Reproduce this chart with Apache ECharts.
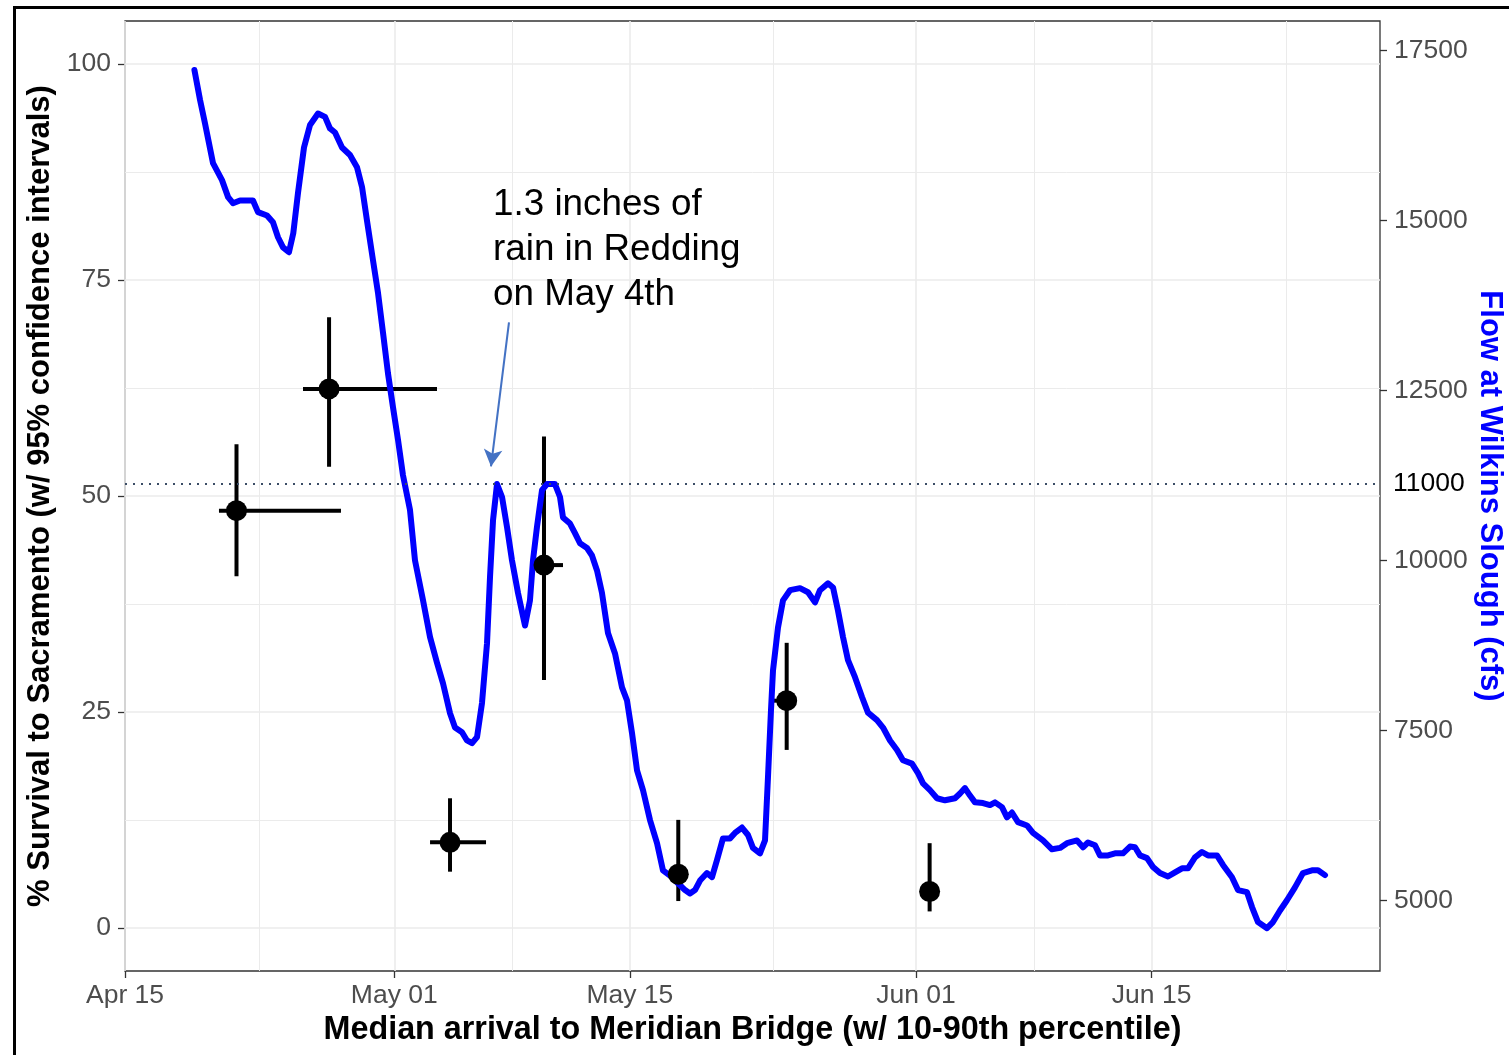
<!DOCTYPE html>
<html><head><meta charset="utf-8">
<script src="https://cdn.jsdelivr.net/npm/echarts@6/dist/echarts.min.js"></script>
<style>html,body{margin:0;padding:0;background:#fff}#c{width:1509px;height:1055px}</style>
</head><body><div id="c"></div>
<script>
const year = 2019;
// Flow at Wilkins Slough (cfs)
const flowTime = ['04-19 03:00','04-19 11:00','04-19 18:00','04-20 05:30','04-20 18:20','04-21 03:00','04-21 10:00','04-21 20:00','04-22 03:00','04-22 14:30','04-22 21:40','04-23 10:30','04-23 19:00','04-24 02:10','04-24 09:20','04-24 17:50','04-25 00:00','04-25 06:40','04-25 15:15','04-25 23:50','04-26 11:15','04-26 21:15','04-27 04:20','04-27 11:30','04-27 21:30','04-28 08:50','04-28 18:50','04-29 02:00','04-29 09:00','04-29 17:40','04-30 00:50','04-30 08:00','04-30 15:00','04-30 22:10','05-01 05:20','05-01 12:25','05-01 22:25','05-02 05:30','05-02 17:00','05-03 03:00','05-03 13:00','05-03 21:30','05-04 07:30','05-04 14:35','05-05 00:35','05-05 07:40','05-05 14:50','05-05 22:00','05-06 05:05','05-06 12:15','05-06 16:30','05-06 20:50','05-07 02:30','05-07 09:40','05-07 16:45','05-07 23:50','05-08 08:25','05-08 18:25','05-09 01:30','05-09 05:50','05-09 11:30','05-09 18:40','05-10 01:45','05-10 13:10','05-10 20:20','05-11 00:35','05-11 10:35','05-11 17:40','05-12 00:50','05-12 10:50','05-12 17:55','05-13 01:05','05-13 08:10','05-13 16:45','05-14 02:45','05-14 12:45','05-14 19:50','05-15 03:00','05-15 10:10','05-15 18:40','05-16 04:40','05-16 14:40','05-16 23:10','05-17 12:00','05-17 20:35','05-18 06:35','05-18 13:40','05-18 20:50','05-19 04:00','05-19 13:55','05-19 21:05','05-20 04:10','05-20 12:45','05-20 22:45','05-21 05:50','05-21 15:50','05-22 00:25','05-22 07:30','05-22 17:30','05-23 00:40','05-23 04:55','05-23 09:10','05-23 12:05','05-23 19:10','05-24 02:20','05-24 12:20','05-25 02:35','05-25 14:00','05-26 00:00','05-26 07:05','05-26 18:30','05-27 01:40','05-27 08:45','05-27 15:55','05-27 23:00','05-28 09:00','05-28 19:00','05-29 03:30','05-29 16:20','05-30 00:55','05-30 10:55','05-30 20:55','05-31 05:25','05-31 18:15','06-01 02:50','06-01 10:00','06-01 19:55','06-02 05:55','06-02 17:20','06-03 07:35','06-03 14:45','06-03 21:50','06-04 05:00','06-04 12:10','06-04 23:30','06-05 09:30','06-05 16:40','06-06 02:35','06-06 09:45','06-06 16:50','06-07 01:25','06-07 14:15','06-07 22:50','06-08 13:05','06-09 01:55','06-09 13:20','06-09 23:20','06-10 13:35','06-10 22:10','06-11 05:15','06-11 15:15','06-11 22:20','06-12 09:50','06-12 19:45','06-13 07:10','06-13 17:10','06-14 00:20','06-14 07:25','06-14 17:25','06-15 02:00','06-15 11:55','06-15 23:20','06-16 09:20','06-16 19:20','06-17 03:50','06-17 13:50','06-17 23:50','06-18 08:25','06-18 21:10','06-19 05:45','06-19 18:35','06-20 03:10','06-20 16:00','06-20 23:10','06-21 07:40','06-21 20:30','06-22 05:05','06-22 15:05','06-23 01:00','06-23 12:25','06-23 23:50','06-24 12:40','06-24 21:15','06-25 07:15'];
const flowCfs = [17210,16770,16430,15840,15590,15340,15250,15290,15290,15290,15120,15070,14970,14750,14600,14530,14810,15400,16070,16400,16570,16520,16350,16290,16070,15960,15780,15490,15000,14410,13930,13340,12750,12250,11770,11250,10740,10000,9410,8870,8490,8190,7750,7540,7470,7350,7310,7400,7900,8780,9750,10590,11120,10930,10490,10000,9520,9040,9410,10000,10490,11030,11120,11120,10930,10630,10540,10400,10250,10180,10070,9850,9520,8930,8630,8130,7940,7460,6910,6620,6180,5840,5440,5340,5250,5150,5100,5150,5290,5400,5340,5590,5910,5910,5990,6070,5960,5770,5690,5880,6810,7790,8380,9010,9410,9560,9590,9530,9380,9560,9660,9600,9260,8870,8530,8280,7990,7760,7650,7540,7350,7210,7060,7010,6870,6720,6620,6500,6470,6500,6570,6650,6540,6440,6430,6400,6440,6370,6220,6290,6150,6100,5990,5880,5750,5770,5840,5880,5780,5850,5810,5660,5660,5690,5690,5790,5780,5660,5620,5490,5400,5350,5410,5470,5470,5630,5710,5660,5660,5520,5340,5150,5120,4900,4680,4590,4680,4850,5000,5190,5400,5440,5440,5370];

// Survival groups: median arrival, survival %, 95% CI, 10th-90th percentile arrival
const fishDate   = ['04-21 15:00','04-27 03:00','05-04 07:30','05-09 21:30','05-17 21:00','05-24 07:35','06-01 19:25'];
const survival   = [48.3, 62.4, 9.9, 42.0, 6.2, 26.3, 4.2];
const survLo     = [40.7, 53.4, 6.5, 28.7, 3.1, 20.6, 1.9];
const survHi     = [56.0, 70.7, 15.0, 56.9, 12.5, 33.0, 9.8];
const arrivalLo  = ['04-20 14:00','04-25 13:50','05-03 03:00','05-09 07:15', null, '05-23 08:50', null];
const arrivalHi  = ['04-27 20:00','05-03 12:55','05-06 10:50','05-11 00:35', null, '05-24 10:00', null];

// Axes
const xStart = '04-15 00:00';
const xEnd = '06-28 13:40';
const xTickDates = ['04-15','05-01','05-15','06-01','06-15'];
const xMinorDates = ['04-23 00:00','05-08 00:00','05-23 12:00','06-08 00:00','06-23 00:00'];
const survTicks = [0, 25, 50, 75, 100];
const survMinor = [12.5, 37.5, 62.5, 87.5];
const survRange = [-5, 105];
const flowTicks = [5000, 7500, 10000, 12500, 15000, 17500];
const flowRange = [3960, 17930];
const refFlow = 11130;
const refLabel = '11000';
const arrowFrom = ['05-07 19:35', 13500];
const arrowTo = ['05-06 17:55', 11380];
const annotation = '1.3 inches of\nrain in Redding\non May 4th';

function ts(s) {
  const parts = s.split(' ');
  const md = parts[0].split('-').map(Number);
  const hm = (parts[1] || '00:00').split(':').map(Number);
  return new Date(year, md[0] - 1, md[1], hm[0], hm[1]).getTime();
}
const MON = ['Jan','Feb','Mar','Apr','May','Jun','Jul','Aug','Sep','Oct','Nov','Dec'];
function fmtDate(v) {
  const d = new Date(v);
  const dd = d.getDate();
  return MON[d.getMonth()] + ' ' + (dd < 10 ? '0' + dd : '' + dd);
}

const FONT = '"Liberation Sans", Arial, sans-serif';
const GRID_C = '#ebebeb';
const xTickVals = xTickDates.map(ts);

const chart = echarts.init(document.getElementById('c'), null, {renderer: 'canvas'});

const gridLines = []
  .concat(xTickDates.map(d => ({xAxis: ts(d), lineStyle: {color: GRID_C, width: 1.6, type: 'solid'}})))
  .concat(xMinorDates.map(d => ({xAxis: ts(d), lineStyle: {color: GRID_C, width: 1, type: 'solid'}})))
  .concat(survTicks.map(v => ({yAxis: v, lineStyle: {color: GRID_C, width: 1.6, type: 'solid'}})))
  .concat(survMinor.map(v => ({yAxis: v, lineStyle: {color: GRID_C, width: 1, type: 'solid'}})));

const errData = fishDate.map((d, i) => [
  ts(d), survival[i], survLo[i], survHi[i],
  arrivalLo[i] ? ts(arrivalLo[i]) : NaN,
  arrivalHi[i] ? ts(arrivalHi[i]) : NaN
]);

const option = {
  animation: false,
  backgroundColor: '#ffffff',
  grid: {left: 125, right: 129, top: 21, bottom: 84, show: true, borderColor: '#333333', borderWidth: 1.3, containLabel: false, outerBoundsMode: 'none'},
  xAxis: {
    type: 'value', min: ts(xStart), max: ts(xEnd), scale: true,
    axisLine: {show: false, onZero: false},
    axisTick: {show: true, customValues: xTickVals, length: 7, lineStyle: {color: '#333333', width: 1.3}},
    axisLabel: {customValues: xTickVals, formatter: fmtDate, color: '#4d4d4d', fontSize: 26.5, fontFamily: FONT, margin: 11},
    splitLine: {show: false}, minorSplitLine: {show: false},
    name: 'Median arrival to Meridian Bridge (w/ 10-90th percentile)',
    nameLocation: 'middle', nameGap: 40,
    nameTextStyle: {color: '#000', fontSize: 32.3, fontWeight: 'bold', fontFamily: FONT}
  },
  yAxis: [{
    type: 'value', min: survRange[0], max: survRange[1], position: 'left',
    axisLine: {show: false, onZero: false},
    axisTick: {show: true, customValues: survTicks, length: 7, lineStyle: {color: '#333333', width: 1.3}},
    axisLabel: {customValues: survTicks, color: '#4d4d4d', fontSize: 26.5, fontFamily: FONT, margin: 14},
    splitLine: {show: false},
    name: '% Survival to Sacramento (w/ 95% confidence intervals)',
    nameLocation: 'middle', nameGap: 66,
    nameTextStyle: {color: '#000', fontSize: 31, fontWeight: 'bold', fontFamily: FONT}
  }, {
    type: 'value', min: flowRange[0], max: flowRange[1], position: 'right',
    axisLine: {show: false, onZero: false},
    axisTick: {show: true, customValues: flowTicks, length: 7, lineStyle: {color: '#333333', width: 1.3}},
    axisLabel: {customValues: flowTicks, formatter: v => String(v), color: '#4d4d4d', fontSize: 26.5, fontFamily: FONT, margin: 14},
    splitLine: {show: false},
    name: 'Flow at Wilkins Slough (cfs)',
    nameLocation: 'middle', nameGap: 94, nameRotate: -90, nameMoveOverlap: false,
    nameTextStyle: {color: '#0000ff', fontSize: 31, fontWeight: 'bold', fontFamily: FONT}
  }],
  series: [
    {
      name: 'grid', type: 'line', xAxisIndex: 0, yAxisIndex: 0, data: [], z: 1, silent: true,
      markLine: {silent: true, z: 1, symbol: 'none', label: {show: false}, animation: false, data: gridLines}
    },
    {
      name: 'ci', type: 'custom', xAxisIndex: 0, yAxisIndex: 0, z: 2, silent: true,
      encode: {x: 0, y: 1},
      data: errData,
      renderItem: function (params, api) {
        const x = api.value(0), lo = api.value(2), hi = api.value(3), y = api.value(1);
        const xl = api.value(4), xh = api.value(5);
        const a = api.coord([x, lo]), b = api.coord([x, hi]);
        const children = [{type: 'line', shape: {x1: a[0], y1: a[1], x2: b[0], y2: b[1]}, style: {stroke: '#000', lineWidth: 4}}];
        if (!isNaN(xl) && !isNaN(xh)) {
          const c = api.coord([xl, y]), d = api.coord([xh, y]);
          children.push({type: 'line', shape: {x1: c[0], y1: c[1], x2: d[0], y2: d[1]}, style: {stroke: '#000', lineWidth: 4}});
        }
        return {type: 'group', children: children};
      }
    },
    {
      name: 'flow', type: 'line', xAxisIndex: 0, yAxisIndex: 1, z: 3, silent: true,
      data: flowTime.map((t, i) => [ts(t), flowCfs[i]]),
      showSymbol: false, symbol: 'none', smooth: false,
      lineStyle: {color: '#0000ff', width: 6, join: 'round', cap: 'round'}
    },
    {
      name: 'ref', type: 'line', xAxisIndex: 0, yAxisIndex: 1, z: 4, data: [], silent: true,
      markLine: {
        silent: true, z: 4, symbol: 'none', animation: false,
        lineStyle: {color: '#3b4d66', width: 2.2, type: [2, 6]},
        label: {show: true, position: 'end', formatter: refLabel, color: '#000', fontSize: 26.5, fontFamily: FONT, distance: 13},
        data: [{yAxis: refFlow}]
      }
    },
    {
      name: 'arrow', type: 'line', xAxisIndex: 0, yAxisIndex: 1, z: 4, data: [], silent: true,
      markLine: {
        silent: true, z: 4, symbol: ['none', 'arrow'], symbolSize: [14, 17], animation: false,
        lineStyle: {color: '#4472c4', width: 2, type: 'solid'},
        label: {show: false},
        data: [[{coord: [ts(arrowFrom[0]), arrowFrom[1]]}, {coord: [ts(arrowTo[0]), arrowTo[1]]}]]
      }
    },
    {
      name: 'survival', type: 'scatter', xAxisIndex: 0, yAxisIndex: 0, z: 5, silent: true,
      data: fishDate.map((d, i) => [ts(d), survival[i]]),
      symbol: 'circle', symbolSize: 21,
      itemStyle: {color: '#000000', opacity: 1}
    }
  ],
  graphic: [
    {type: 'text', left: 493, top: 182, z: 10, silent: true,
     style: {text: annotation, fontSize: 36.8, fontFamily: FONT, fill: '#000', lineHeight: 45}},
    {type: 'rect', z: 10, silent: true, shape: {x: 14.5, y: 7.5, width: 1600, height: 1200},
     style: {fill: 'none', stroke: '#000', lineWidth: 3}}
  ]
};
chart.setOption(option);
</script>
</body></html>
